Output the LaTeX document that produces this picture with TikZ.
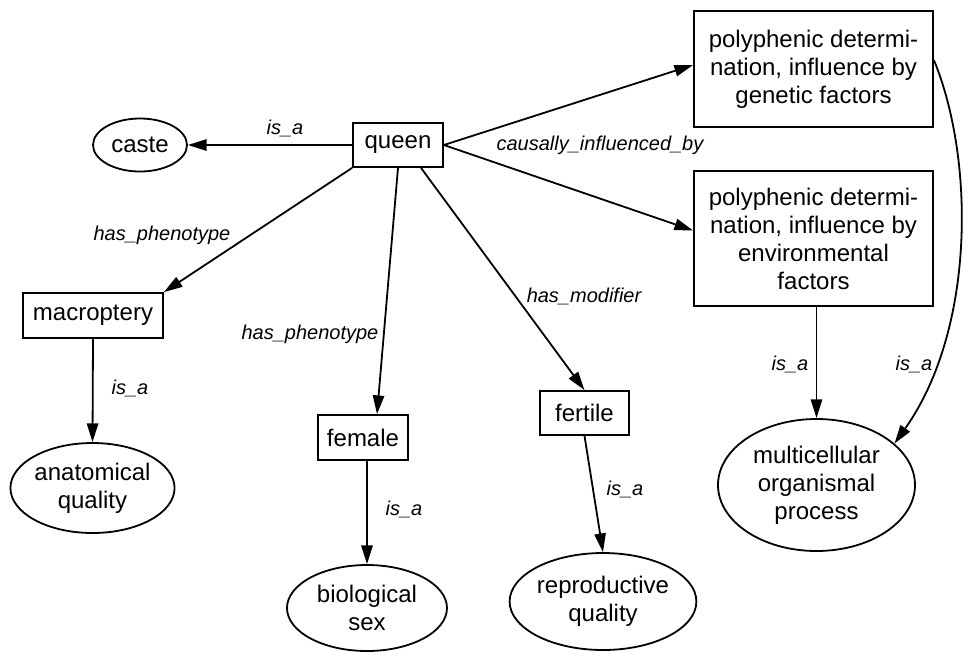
\documentclass[tikz,border=0pt]{standalone}
\usepackage{fontspec}
\setmainfont{Liberation Sans}
\usetikzlibrary{arrows.meta,shapes.geometric,calc}

\tikzset{
  base/.style={draw, line width=1.35pt, inner sep=0pt, align=center,
    font=\fontsize{18}{21}\selectfont},
  term/.style={base, rectangle},
  class/.style={base, ellipse},
  lbl/.style={inner sep=0pt, font=\fontsize{15}{18}\selectfont\itshape},
  rel/.style={line width=1.35pt, -{Triangle[length=14pt,width=8.5pt]}},
}

\begin{document}
\begin{tikzpicture}[x=0.75pt, y=-0.75pt]
\useasboundingbox (0,0) rectangle (964,651);

% nodes
\node[class, minimum width=70.5pt,  minimum height=39.75pt] (caste) at (140,145) {caste};
\node[term,  minimum width=67.5pt,  minimum height=33pt]    (queen) at (398,145) {queen};
\node[term,  minimum width=105pt,   minimum height=33.75pt] (macro) at (93,315.5) {macroptery};
\node[term,  minimum width=179.25pt,minimum height=87pt]    (gen)   at (813.5,69)
  {polyphenic determi-\\nation, influence by\\genetic factors};
\node[term,  minimum width=179.25pt,minimum height=101.25pt](env)   at (813.5,238.5)
  {polyphenic determi-\\nation, influence by\\environmental\\factors};
\node[term,  minimum width=67.5pt,  minimum height=33.75pt] (female) at (363,437.5) {female};
\node[term,  minimum width=66.75pt, minimum height=33pt]    (fertile) at (584.5,413) {fertile};
\node[class, minimum width=120.75pt,minimum height=67.5pt]  (anat)  at (92.5,488) {anatomical\\quality};
\node[class, minimum width=120pt,   minimum height=64.5pt]  (sex)   at (367,608) {biological\\sex};
\node[class, minimum width=126pt,   minimum height=72.75pt] (repro) at (603,601.5) {reproductive\\quality};
\node[class, minimum width=147.75pt,minimum height=99pt]    (mop)   at (816.5,485) {multicellular\\organismal\\process};

% edges
\draw[rel] (queen.west) -- (caste.east);
\draw[rel] (queen.south west) -- (macro.north east);
\draw[rel] (queen.south) -- ($(female.north)+(14,0)$);
\draw[rel] ($(queen.south)+(23,0)$) -- (fertile.north);
\draw[rel] (queen.east) -- ($(gen.west)+(0,-4)$);
\draw[rel] (queen.east) -- ($(env.west)+(0,-8)$);
\draw[rel] (macro.south) -- (anat.north);
\draw[rel] (female.south -| sex.north) -- (sex.north);
\draw[rel] (fertile.south) -- (repro.north);
\draw[rel] (env.south -| mop.north) -- (mop.north);
\draw[rel] ($(gen.east)+(0,-9)$) .. controls (975,160) and (975,330) .. (mop.28);

% edge labels
\node[lbl] (l1) at (285,128) {is\_a};
\node[lbl] (l2) at (162,235) {has\_phenotype};
\node[lbl] (l3) at (310,334) {has\_phenotype};
\node[lbl] (l4) at (584,296) {has\_modifier};
\node[lbl] (l5) at (600,145) {causally\_influenced\_by};
\node[lbl] (l6) at (130,388) {is\_a};
\node[lbl] (l7) at (404,509) {is\_a};
\node[lbl] (l8) at (625,489) {is\_a};
\node[lbl] (l9) at (790,364) {is\_a};
\node[lbl] (l10) at (914,364) {is\_a};
\end{tikzpicture}
\end{document}
